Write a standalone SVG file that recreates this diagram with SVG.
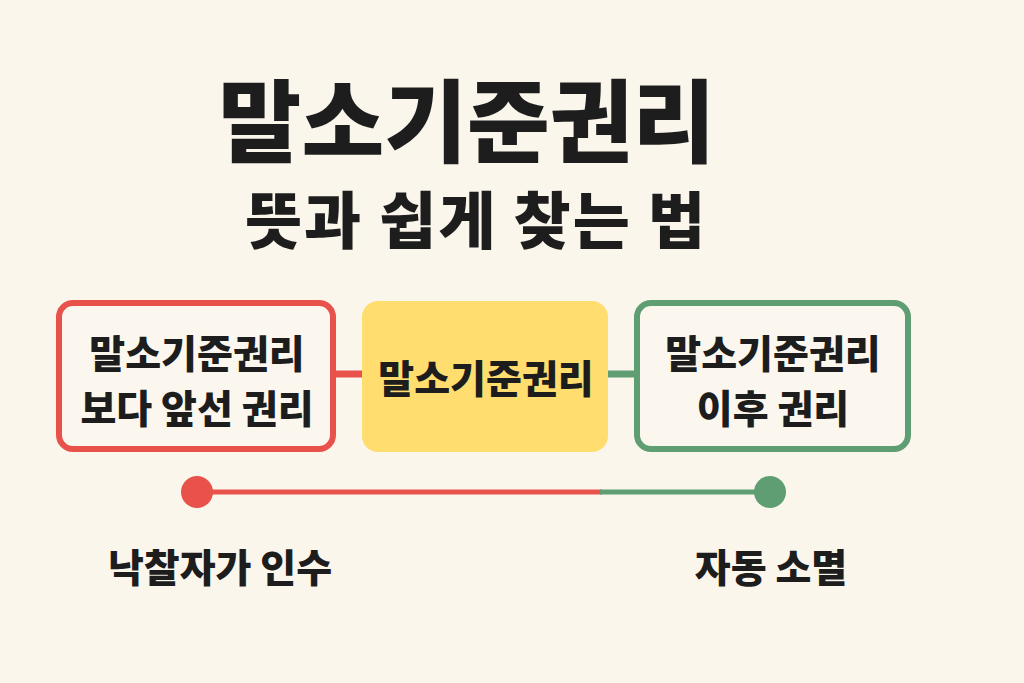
<svg xmlns="http://www.w3.org/2000/svg" width="1024" height="683" viewBox="0 0 1024 683">
<style>
text{font-family:"Noto Sans CJK KR","Noto Sans",sans-serif;font-weight:900;fill:#1d1d1d;text-anchor:middle}
.box{fill:#fbf7ef;stroke-width:6}
.lbl{font-size:39px}
</style>
<rect width="1024" height="683" fill="#fbf6ec"/>
<g id="title">
<text x="467" y="155" font-size="90">말소기준권리</text>
<text x="476" y="244" font-size="62" letter-spacing="2">뜻과 쉽게 찾는 법</text>
</g>
<g id="connectors">
<line x1="333" y1="374" x2="362" y2="374" stroke="#e8524a" stroke-width="7"/>
<line x1="608" y1="374" x2="636" y2="374" stroke="#5e9e72" stroke-width="7"/>
<line x1="197" y1="492" x2="602" y2="492" stroke="#e8524a" stroke-width="5"/>
<line x1="600" y1="492" x2="770" y2="492" stroke="#5e9e72" stroke-width="5"/>
</g>
<g id="left-box">
<rect class="box" x="59" y="303" width="274" height="146" rx="14" stroke="#e8524a"/>
<text class="lbl" x="197" y="368">말소기준권리</text>
<text class="lbl" x="197" y="423">보다 앞선 권리</text>
</g>
<g id="center-box">
<rect x="362" y="301" width="246" height="151" rx="16" fill="#ffdd6e"/>
<text class="lbl" x="486" y="393">말소기준권리</text>
</g>
<g id="right-box">
<rect class="box" x="637" y="303" width="271" height="146" rx="14" stroke="#5e9e72"/>
<text class="lbl" x="773" y="368">말소기준권리</text>
<text class="lbl" x="773" y="423">이후 권리</text>
</g>
<g id="start-point">
<circle cx="197" cy="492" r="16" fill="#e8524a"/>
<text class="lbl" x="220" y="582">낙찰자가 인수</text>
</g>
<g id="end-point">
<circle cx="770" cy="492" r="16" fill="#5e9e72"/>
<text class="lbl" x="771" y="582">자동 소멸</text>
</g>
</svg>
